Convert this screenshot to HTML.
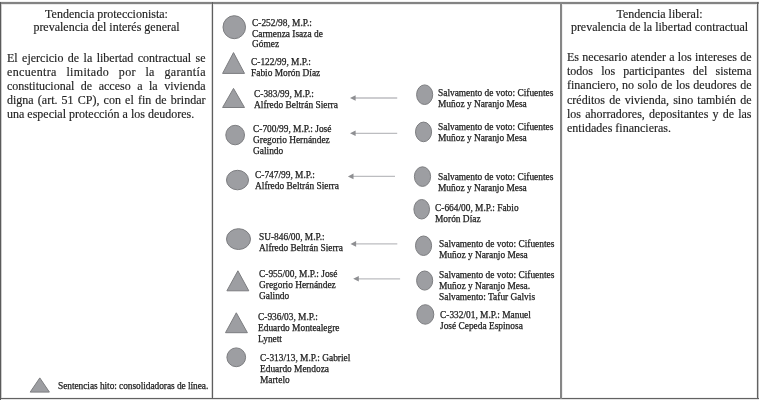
<!DOCTYPE html>
<html><head><meta charset="utf-8"><style>
html,body{margin:0;padding:0;background:#fff;}
.t,.h,.p{will-change:transform;}
body{width:760px;height:400px;position:relative;overflow:hidden;font-family:"Liberation Serif",serif;color:#222;}
.t{position:absolute;white-space:nowrap;-webkit-text-stroke:0.25px #222;}
.h{position:absolute;text-align:center;font-size:12px;line-height:13px;white-space:nowrap;-webkit-text-stroke:0.15px #222;}
.p{position:absolute;font-size:12px;-webkit-text-stroke:0.15px #222;}
.p div{white-space:nowrap;}
.p .j{text-align:justify;text-align-last:justify;white-space:normal;}
.ln{position:absolute;}
svg{position:absolute;left:0;top:0;}
</style></head><body>
<svg width="760" height="400" viewBox="0 0 760 400">
<g fill="#9d9ea2" stroke="#7c7d80" stroke-width="1">
<ellipse cx="234.25" cy="27.20" rx="11.25" ry="11.50"/><polygon points="233.50,52.60 244.50,73.40 222.60,73.40"/><polygon points="233.50,88.40 244.50,107.50 222.60,107.50"/><ellipse cx="235.15" cy="135.05" rx="9.35" ry="9.75"/><ellipse cx="237.50" cy="180.05" rx="11.00" ry="9.75"/><ellipse cx="238.50" cy="239.10" rx="12.00" ry="10.40"/><polygon points="237.90,270.80 248.80,290.80 226.90,290.80"/><polygon points="236.30,312.80 247.40,332.70 225.50,332.70"/><ellipse cx="236.25" cy="357.30" rx="9.35" ry="9.40"/><ellipse cx="424.65" cy="94.70" rx="8.05" ry="9.80"/><ellipse cx="423.55" cy="131.90" rx="8.05" ry="9.80"/><ellipse cx="422.50" cy="176.60" rx="8.10" ry="9.80"/><ellipse cx="421.70" cy="209.25" rx="7.80" ry="9.75"/><ellipse cx="423.55" cy="245.75" rx="8.05" ry="9.75"/><ellipse cx="424.65" cy="280.55" rx="8.05" ry="9.55"/><ellipse cx="425.30" cy="314.45" rx="8.50" ry="9.75"/><polygon points="39.80,377.90 49.40,392.10 30.20,392.10"/>
</g>
<g stroke="#bcbdc0" stroke-width="1.3" fill="#8e8f92">
<line x1="397.2" y1="98.0" x2="354.0" y2="98.0"/><polygon class="ah" stroke="none" points="350.0,98.0 355.6,95.2 355.6,100.8"/><line x1="397.2" y1="133.3" x2="354.0" y2="133.3"/><polygon class="ah" stroke="none" points="350.0,133.3 355.6,130.5 355.6,136.1"/><line x1="395.0" y1="176.4" x2="351.9" y2="176.4"/><polygon class="ah" stroke="none" points="347.9,176.4 353.5,173.6 353.5,179.2"/><line x1="397.3" y1="243.9" x2="354.5" y2="243.9"/><polygon class="ah" stroke="none" points="350.5,243.9 356.1,241.1 356.1,246.7"/><line x1="400.1" y1="278.8" x2="357.2" y2="278.8"/><polygon class="ah" stroke="none" points="353.2,278.8 358.8,276.0 358.8,281.6"/>
</g>
<g shape-rendering="crispEdges">
<rect x="0" y="1" width="759" height="1" fill="#f0f0f0"/>
<rect x="0" y="2" width="759" height="2" fill="#838383"/>
<rect x="0" y="4" width="759" height="1" fill="#eaeaea"/>
<rect x="0" y="397" width="759" height="1" fill="#f2f2f2"/>
<rect x="0" y="398" width="759" height="1" fill="#626262"/>
<rect x="0" y="399" width="759" height="1" fill="#e4e4e4"/>
<rect x="0" y="2" width="1" height="398" fill="#5a5a5a"/>
<rect x="1" y="4" width="1" height="394" fill="#cdcdcd"/>
<rect x="756" y="4" width="1" height="394" fill="#eeeeee"/>
<rect x="757" y="2" width="1" height="397" fill="#626262"/>
<rect x="758" y="4" width="1" height="394" fill="#c4c4c4"/>
<rect x="211" y="4" width="1" height="394" fill="#d8d8d8"/>
<rect x="212" y="2" width="1" height="397" fill="#5e5e5e"/>
<rect x="213" y="4" width="1" height="394" fill="#ececec"/>
<rect x="560" y="2" width="2" height="397" fill="#868686"/>
<rect x="562" y="4" width="1" height="394" fill="#f0f0f0"/>
</g>
</svg>
<div class="h" style="left:1px;width:211px;top:8.05px">Tendencia proteccionista:<br>prevalencia del interés general</div><div class="h" style="left:561px;width:197px;top:8.05px">Tendencia liberal:<br>prevalencia de la libertad contractual</div><div class="p" style="left:7.3px;width:198.5px;top:50.80px;line-height:14.1px"><div class="j">El ejercicio de la libertad contractual se</div><div class="j" style="letter-spacing:0.35px;margin-right:-0.35px">encuentra limitado por la garantía</div><div class="j">constitucional de acceso a la vivienda</div><div class="j">digna (art. 51 CP), con el fin de brindar</div><div>una especial protección a los deudores.</div></div><div class="p" style="left:567.2px;width:184.5px;top:49.95px;line-height:14.2px"><div class="j">Es necesario atender a los intereses de</div><div class="j">todos los participantes del sistema</div><div class="j">financiero, no solo de los deudores de</div><div class="j">créditos de vivienda, sino también de</div><div class="j">los ahorradores, depositantes y de las</div><div>entidades financieras.</div></div><div class="t" style="left:252.3px;top:17.83px;font-size:9.4px;line-height:10.6px;">C-252/98, M.P.:<br>Carmenza Isaza de<br>Gómez</div><div class="t" style="left:250.8px;top:57.23px;font-size:9.4px;line-height:10.6px;">C-122/99, M.P.:<br>Fabio Morón Díaz</div><div class="t" style="left:253.5px;top:89.03px;font-size:9.4px;line-height:10.6px;">C-383/99, M.P.:<br>Alfredo Beltrán Sierra</div><div class="t" style="left:252.7px;top:124.08px;font-size:9.4px;line-height:10.9px;">C-700/99, M.P.: José<br>Gregorio Hernández<br>Galindo</div><div class="t" style="left:255.1px;top:170.33px;font-size:9.4px;line-height:10.6px;">C-747/99, M.P.:<br>Alfredo Beltrán Sierra</div><div class="t" style="left:259.0px;top:232.33px;font-size:9.4px;line-height:10.6px;">SU-846/00, M.P.:<br>Alfredo Beltrán Sierra</div><div class="t" style="left:258.7px;top:269.15px;font-size:9.4px;line-height:10.75px;">C-955/00, M.P.: José<br>Gregorio Hernández<br>Galindo</div><div class="t" style="left:257.5px;top:312.08px;font-size:9.4px;line-height:11.1px;">C-936/03, M.P.:<br>Eduardo Montealegre<br>Lynett</div><div class="t" style="left:259.8px;top:352.98px;font-size:9.4px;line-height:10.9px;">C-313/13, M.P.: Gabriel<br>Eduardo Mendoza<br>Martelo</div><div class="t" style="left:437.7px;top:87.53px;font-size:9.4px;line-height:10.6px;">Salvamento de voto: Cifuentes<br>Muñoz y Naranjo Mesa</div><div class="t" style="left:438.0px;top:122.13px;font-size:9.4px;line-height:10.6px;">Salvamento de voto: Cifuentes<br>Muñoz y Naranjo Mesa</div><div class="t" style="left:437.7px;top:172.08px;font-size:9.4px;line-height:10.7px;">Salvamento de voto: Cifuentes<br>Muñoz y Naranjo Mesa</div><div class="t" style="left:435.3px;top:203.33px;font-size:9.4px;line-height:10.6px;">C-664/00, M.P.: Fabio<br>Morón Díaz</div><div class="t" style="left:438.5px;top:239.03px;font-size:9.4px;line-height:11px;">Salvamento de voto: Cifuentes<br>Muñoz y Naranjo Mesa</div><div class="t" style="left:438.5px;top:269.93px;font-size:9.4px;line-height:11.0px;">Salvamento de voto: Cifuentes<br>Muñoz y Naranjo Mesa.<br>Salvamento: Tafur Galvis</div><div class="t" style="left:439.8px;top:310.08px;font-size:9.4px;line-height:10.9px;">C-332/01, M.P.: Manuel<br>José Cepeda Espinosa</div><div class="t" style="left:57.8px;top:380.93px;font-size:9.4px;line-height:10px;letter-spacing:-0.05px">Sentencias hito: consolidadoras de línea.</div>
</body></html>
